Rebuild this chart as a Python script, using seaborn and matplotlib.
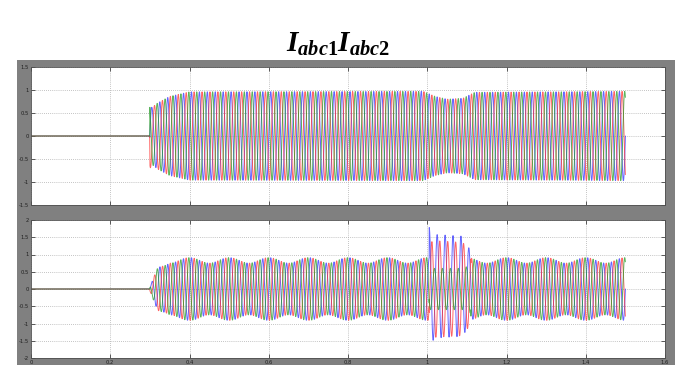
import numpy as np
import pandas as pd
import matplotlib
matplotlib.use("Agg")
import matplotlib.pyplot as plt
import seaborn as sns

# ---------------- data ----------------
F_MAIN = 50.0            # Hz, fundamental
T_END = 1.5              # s, end of record
DT = 1e-4

# top panel (Iabc1) envelope keypoints
top_env_t = [0.0, 0.2995, 0.300, 0.305, 0.32, 0.35, 0.40, 0.99, 1.02, 1.05, 1.09, 1.12, 1.50]
top_env_a = [0.0, 0.0, 0.72, 0.62, 0.72, 0.86, 0.96, 0.97, 0.86, 0.80, 0.82, 0.95, 0.97]

# bottom panel (Iabc2) envelope keypoints
bot_env_t = [0.0, 0.2995, 0.300, 0.32, 0.35, 1.50]
bot_env_a = [0.0, 0.0, 0.05, 0.60, 0.83, 0.83]
BEAT_F = 40.0            # Hz, interharmonic that makes the ripple
beat_t = [0.0, 0.2995, 0.33, 1.50]
beat_a = [0.0, 0.0, 0.08, 0.08]

# fault interval on bottom panel and per-phase peak amplitudes during it
fault_t = [1.005, 1.11]
fault_amp_t = [1.005, 1.02, 1.09, 1.11]
fault_amp = {"a": [1.70, 1.50, 1.45, 1.0],
             "b": [1.35, 1.40, 1.35, 1.0],
             "c": [0.60, 0.60, 0.60, 0.7]}
fault_dc = {"a": 0.08, "b": 0.0, "c": 0.0}

phases = ["a", "b", "c"]
phase_shift_deg = [0, -120, 120]
phase_colors = {"a": "#3030ff", "b": "#ff3030", "c": "#259a25"}

top_ylim = (-1.5, 1.5)
bot_ylim = (-2.0, 2.0)
xlim = (0.0, 1.6)
x_ticks = [0, 0.2, 0.4, 0.6, 0.8, 1.0, 1.2, 1.4, 1.6]
x_ticklabels = ["0", "0.2", "0.4", "0.6", "0.8", "1", "1.2", "1.4", "1.6"]
top_yticks = [-1.5, -1, -0.5, 0, 0.5, 1, 1.5]
top_yticklabels = ["-1.5", "-1", "-0.5", "0", "0.5", "1", "1.5"]
bot_yticks = [-2, -1.5, -1, -0.5, 0, 0.5, 1, 1.5, 2]
bot_yticklabels = ["-2", "-1.5", "-1", "-0.5", "0", "0.5", "1", "1.5", "2"]
title_text = r"$I_{abc1}I_{abc2}$"

# ---------------- build waveforms ----------------
t = np.arange(0.0, T_END + DT, DT)
top_env = np.interp(t, top_env_t, top_env_a)
bot_env = np.interp(t, bot_env_t, bot_env_a)
beat_env = np.interp(t, beat_t, beat_a)
in_fault = (t >= fault_t[0]) & (t <= fault_t[1])

rows_top, rows_bot = [], []
for ph, sh in zip(phases, phase_shift_deg):
    w = 2 * np.pi * F_MAIN * t + np.deg2rad(sh)
    wb = 2 * np.pi * BEAT_F * t + np.deg2rad(sh)
    y1 = top_env * np.sin(w)
    y2 = bot_env * np.sin(w) + beat_env * np.sin(wb)
    famp = np.interp(t, fault_amp_t, fault_amp[ph])
    y2 = np.where(in_fault, famp * np.sin(w) + fault_dc[ph], y2)
    rows_top.append(pd.DataFrame({"t": t, "i": y1, "phase": ph}))
    rows_bot.append(pd.DataFrame({"t": t, "i": y2, "phase": ph}))
df_top = pd.concat(rows_top, ignore_index=True)
df_bot = pd.concat(rows_bot, ignore_index=True)

# ---------------- figure ----------------
sns.set_theme(style="white")
plt.rcParams["mathtext.fontset"] = "custom"
plt.rcParams["mathtext.it"] = "Liberation Serif:italic:bold"
plt.rcParams["mathtext.rm"] = "Liberation Serif:bold"
plt.rcParams["font.family"] = ["DejaVu Sans"]

W, H = 684, 365
fig = plt.figure(figsize=(W / 100, H / 100), dpi=100, facecolor="white")


def px_axes(l, t_, r, b, **kw):
    return fig.add_axes([l / W, 1 - b / H, (r - l) / W, (b - t_) / H], **kw)


# grey scope frame (background axes)
bg = px_axes(17, 60, 675, 365, zorder=-10)
bg.set_facecolor("#808080")
bg.set_xticks([])
bg.set_yticks([])
for s in bg.spines.values():
    s.set_visible(False)

ax1 = px_axes(31, 67, 665, 205)
ax2 = px_axes(31, 220, 665, 358)

for ax, df, ylim, yt, ytl in [(ax1, df_top, top_ylim, top_yticks, top_yticklabels),
                              (ax2, df_bot, bot_ylim, bot_yticks, bot_yticklabels)]:
    ax.set_facecolor("white")
    sns.lineplot(data=df, x="t", y="i", hue="phase", palette=phase_colors,
                 estimator=None, sort=False, lw=0.7, alpha=0.75, legend=False, ax=ax)
    ax.set_xlim(*xlim)
    ax.set_ylim(*ylim)
    ax.set_xticks(x_ticks)
    ax.set_yticks(yt)
    ax.set_yticklabels(ytl)
    ax.set_xlabel("")
    ax.set_ylabel("")
    ax.grid(True, linestyle=(0, (1, 1.5)), color="#b0b0b0", lw=0.6)
    ax.tick_params(direction="in", length=3, width=0.6, color="#404040",
                   labelsize=3.8, labelcolor="#202020", pad=1.5,
                   top=True, right=True, bottom=True, left=True)
    for s in ax.spines.values():
        s.set_color("#505050")
        s.set_linewidth(0.6)

ax1.set_xticklabels([])
ax2.set_xticklabels(x_ticklabels)

fig.text(338 / W, 1 - 44 / H, title_text, ha="center", va="center",
         fontsize=21, color="black")

fig.savefig("out.png", dpi=100, facecolor="white")
